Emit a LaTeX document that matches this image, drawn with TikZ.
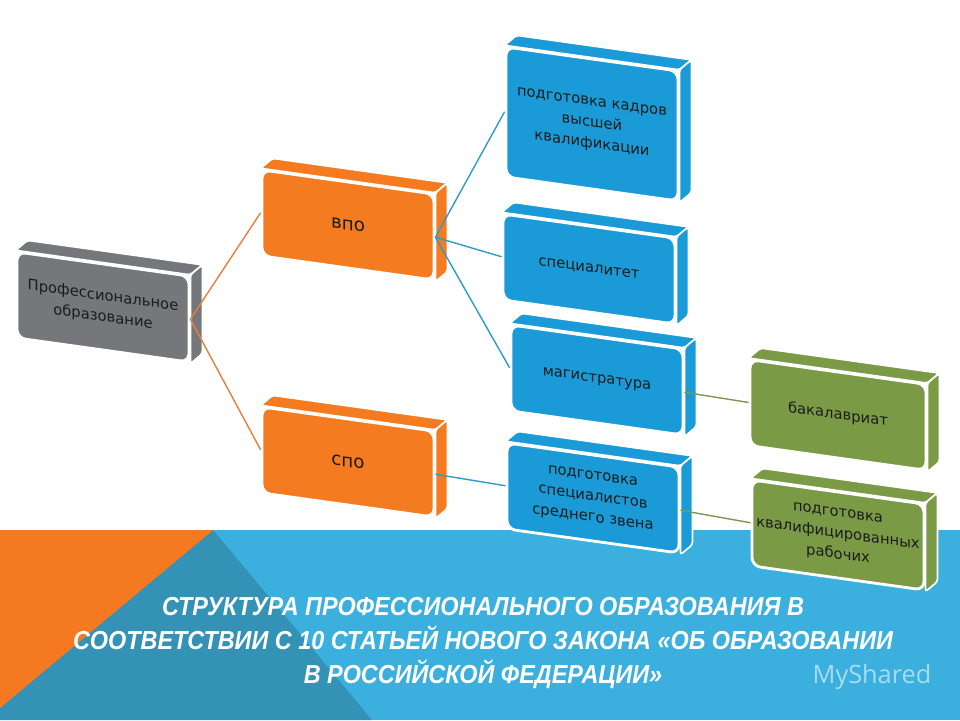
\documentclass[tikz,border=0pt]{standalone}
\usepackage{fontspec}
\setmainfont{DejaVu Sans}
\newfontfamily\boxfont{DejaVu Sans}
\newfontfamily\titlefont[FakeStretch=0.9]{Liberation Sans}
\newfontfamily\markfont{Open Sans}
\definecolor{profgrey}{HTML}{75777A}
\definecolor{boxorange}{HTML}{F47B20}
\definecolor{boxblue}{HTML}{1A9BD7}
\definecolor{boxgreen}{HTML}{7B9A46}
\definecolor{linkorange}{HTML}{E8803C}
\definecolor{linkblue}{HTML}{2C9DC9}
\definecolor{linkgreen}{HTML}{7D9756}
\definecolor{bandblue}{HTML}{3BB0DE}
\definecolor{banddark}{HTML}{3392B5}
\definecolor{bandorange}{HTML}{F47920}
\definecolor{textdark}{HTML}{1C1C1C}
\pgfdeclarelayer{background}
\pgfdeclarelayer{faces}
\pgfsetlayers{background,faces,main}
\begin{document}
\begin{tikzpicture}[
  box/.style = {shape=rectangle, rounded corners=6pt, draw=white, line width=2pt,
    minimum width=4.3cm, minimum height=2.15cm, inner sep=2pt, align=center,
    yslant=-0.14, text=textdark, font=\boxfont\fontsize{10.5}{15}\selectfont},
  grey box/.style = {box, fill=profgrey},
  orange box/.style = {box, fill=boxorange, font=\boxfont\fontsize{13}{15}\selectfont},
  blue box/.style = {box, fill=boxblue},
  green box/.style = {box, fill=boxgreen},
  face/.style = {draw=white, line width=1.2pt, rounded corners=2pt},
  link/.style = {line width=1pt}
  ]
  \useasboundingbox (0,0) rectangle (24,18);
  % bottom band
  \begin{pgfonlayer}{background}
    \fill[white] (0,0) rectangle (24,18);
    \fill[bandblue] (0,0) rectangle (24,4.75);
    \fill[banddark] (0,0) -- (0,4.75) -- (5.33,4.75) -- (9.3,0) -- cycle;
    \fill[bandorange] (0,0.3) -- (0,4.75) -- (5.33,4.75) -- cycle;
  \end{pgfonlayer}

  \node[grey box] (prof) at (2.575,10.325) {Профессиональное\\образование};
  \node[orange box] (vpo) at (8.7,12.375) {впо};
  \node[orange box] (spo) at (8.7,6.45) {спо};
  \node[blue box, minimum height=3.25cm] (kadr) at (14.8,14.9) {подготовка кадров\\высшей\\квалификации};
  \node[blue box] (spec) at (14.725,11.275) {специалитет};
  \node[blue box] (mag) at (14.925,8.5) {магистратура};
  \node[blue box] (sred) at (14.825,5.55) {подготовка\\специалистов\\среднего звена};
  \node[green box, minimum width=4.4cm] (bak) at (20.95,7.625) {бакалавриат};
  \node[green box] (rab) at (20.95,4.625) {подготовка\\квалифицированных\\рабочих};

  % top and side faces
  \begin{pgfonlayer}{faces}
    \foreach \n/\c in {prof/profgrey, vpo/boxorange, spo/boxorange, kadr/boxblue,
        spec/boxblue, mag/boxblue, sred/boxblue, bak/boxgreen, rab/boxgreen} {
      \fill[\c, face] (\n.north west) -- ([shift={(0.3,0.25)}]\n.north west)
        -- ([shift={(0.3,0.25)}]\n.north east) -- (\n.north east) -- cycle;
      \fill[\c, face] (\n.north east) -- ([shift={(0.3,0.25)}]\n.north east)
        -- ([shift={(0.3,0.25)}]\n.south east) -- (\n.south east) -- cycle;
    }
  \end{pgfonlayer}

  \draw[link, linkorange] (prof.east) -- (vpo.west);
  \draw[link, linkorange] (prof.east) -- (spo.west);
  \foreach \t in {kadr, spec, mag}
    \draw[link, linkblue] (vpo.east) -- (\t.west);
  \draw[link, linkblue] (spo.east) -- (sred.west);
  \draw[link, linkgreen] (mag.east) -- (bak.west);
  \draw[link, linkgreen] (sred.east) -- (rab.west);

  \node[text=white, align=center, font=\titlefont\bfseries\itshape\fontsize{18.5}{24}\selectfont]
    (title) at (12.075,1.93) {СТРУКТУРА ПРОФЕССИОНАЛЬНОГО ОБРАЗОВАНИЯ В\\
    СООТВЕТСТВИИ С 10 СТАТЬЕЙ НОВОГО ЗАКОНА «ОБ ОБРАЗОВАНИИ\\
    В РОССИЙСКОЙ ФЕДЕРАЦИИ»};
  \node[text=white, opacity=0.55, font=\markfont\fontsize{18}{20}\selectfont]
    (mark) at (21.8,1.07) {MyShared};
\end{tikzpicture}
\end{document}
